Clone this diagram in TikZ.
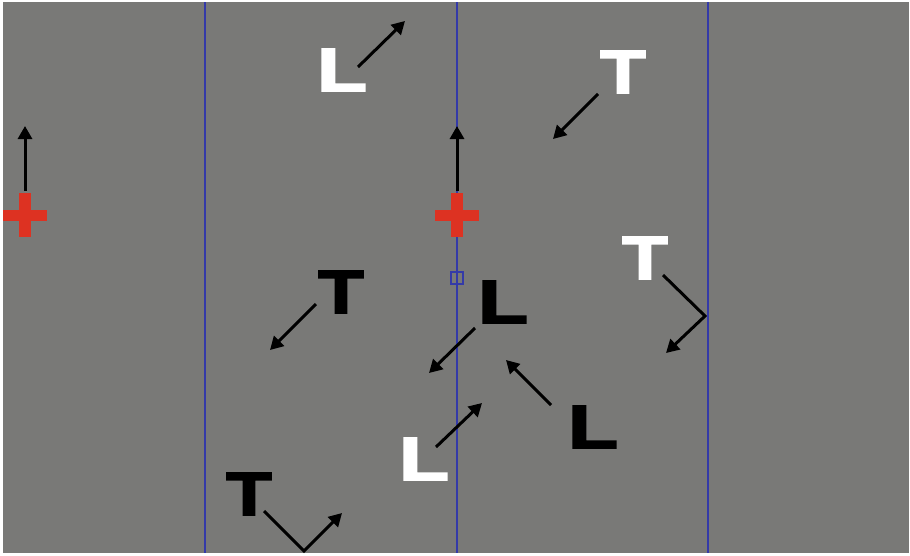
\documentclass[tikz,border=0pt]{standalone}
\usepackage{fontspec}
\setmainfont{Liberation Sans}
\newfontfamily\letterfont[FakeBold=2.6]{Liberation Sans Bold}
\usetikzlibrary{arrows.meta}
\definecolor{bggray}{RGB}{121,121,119}
\definecolor{laneblue}{RGB}{52,58,168}
\definecolor{crossred}{RGB}{221,50,34}
\tikzset{
  letter/.style={inner sep=0pt, anchor=base, font=\letterfont\fontsize{61}{61}\selectfont},
  wl/.style={letter, text=white},
  bl/.style={letter, text=black},
  arr/.style={line width=3pt, -{Triangle[length=13pt,width=14pt]}},
  lane/.style={laneblue, line width=2pt},
}
\newcommand{\wideL}{\scalebox{1.34}[1]{L}}
\newcommand{\wideT}{\scalebox{1.22}[1]{T}}
\begin{document}
\begin{tikzpicture}[x=1pt,y=-1pt]
\useasboundingbox (0,0) rectangle (910,555);
\fill[white] (0,0) rectangle (910,555);
\fill[bggray] (3,2) rectangle (909,553);
% lanes
\coordinate (la1) at (205,2); \coordinate (lb1) at (205,553);
\coordinate (la2) at (457,2); \coordinate (lb2) at (457,553);
\coordinate (la3) at (708,2); \coordinate (lb3) at (708,553);
\draw[lane] (la1) -- (lb1);
\draw[lane] (la2) -- (lb2);
\draw[lane] (la3) -- (lb3);
% small square
\node[draw=laneblue, line width=1.8pt, minimum size=12pt, inner sep=0pt] (sq) at (457,278) {};
% crosses
\coordinate (cr1) at (25,215);
\coordinate (cr2) at (457,215);
\foreach \c in {cr1,cr2}{
  \fill[crossred] ([shift={(-6,-22)}]\c) rectangle ([shift={(6,22)}]\c);
  \fill[crossred] ([shift={(-22,-5.5)}]\c) rectangle ([shift={(22,5.5)}]\c);
}
\coordinate (cs1) at (25,191); \coordinate (ct1) at (25,126);
\coordinate (cs2) at (457,191); \coordinate (ct2) at (457,126);
\draw[arr] (cs1) -- (ct1);
\draw[arr] (cs2) -- (ct2);
% letters
\node[wl] (L1) at (342,91) {\wideL};
\node[wl] (T1) at (623,93) {\wideT};
\node[wl] (T2) at (645,279) {\wideT};
\node[bl] (T3) at (341,313) {\wideT};
\node[bl] (L2) at (503,323) {\wideL};
\node[bl] (L3) at (593,448) {\wideL};
\node[wl] (L4) at (424,480) {\wideL};
\node[bl] (T4) at (249,515) {\wideT};
% arrows
\coordinate (a1s) at (358,67);  \coordinate (a1e) at (405,21);
\coordinate (a2s) at (598,94);  \coordinate (a2e) at (553,139);
\coordinate (a3s) at (663,275); \coordinate (a3m) at (705,316); \coordinate (a3e) at (666,353);
\coordinate (a4s) at (316,304); \coordinate (a4e) at (270,350);
\coordinate (a5s) at (475,328); \coordinate (a5e) at (429,373);
\coordinate (a6s) at (551,405); \coordinate (a6e) at (506,360);
\coordinate (a7s) at (436,447); \coordinate (a7e) at (482,403);
\coordinate (a8s) at (264,511); \coordinate (a8m) at (304,551); \coordinate (a8e) at (342,513);
\draw[arr] (a1s) -- (a1e);
\draw[arr] (a2s) -- (a2e);
\draw[arr] (a3s) -- (a3m) -- (a3e);
\draw[arr] (a4s) -- (a4e);
\draw[arr] (a5s) -- (a5e);
\draw[arr] (a6s) -- (a6e);
\draw[arr] (a7s) -- (a7e);
\draw[arr] (a8s) -- (a8m) -- (a8e);
\end{tikzpicture}
\end{document}
